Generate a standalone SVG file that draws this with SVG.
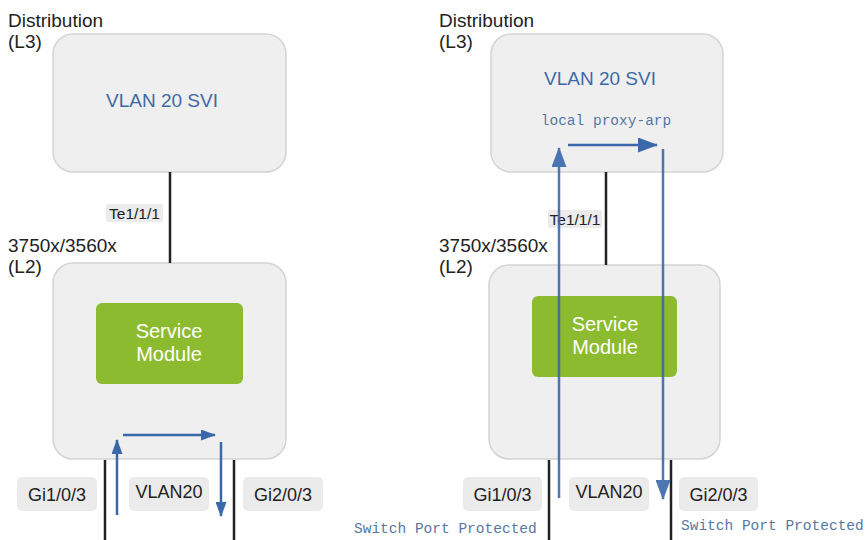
<svg xmlns="http://www.w3.org/2000/svg" width="867" height="540" viewBox="0 0 867 540">
<defs>
<style>
.t{font-family:"Liberation Sans",Arial,sans-serif;font-size:19px;fill:#222}
.box{fill:#efefef;stroke:#d4d4d4;stroke-width:1.5}
.svi{font-family:"Liberation Sans",Arial,sans-serif;font-size:19px;fill:#3d6aa6;text-anchor:middle}
.sm{fill:#8dbb30}
.smt{font-family:"Liberation Sans",Arial,sans-serif;font-size:20px;fill:#fff;text-anchor:middle}
.lbg{fill:#ebebeb}
.lbl{font-family:"Liberation Sans",Arial,sans-serif;font-size:18px;fill:#222;text-anchor:middle}
.mono{font-family:"Liberation Mono","Courier New",monospace;font-size:14.5px;fill:#5877a3}
.wire{stroke:#222;stroke-width:2.5;fill:none}
.flow{stroke:#3a68ab;stroke-width:2.5;fill:none}
</style>
<marker id="ah" viewBox="0 0 15 11" refX="14" refY="5.5" markerWidth="15" markerHeight="11" markerUnits="userSpaceOnUse" orient="auto">
<path d="M0,0 L15,5.5 L0,11 Z" fill="#3a68ab"/>
</marker>
<marker id="ah2" viewBox="0 0 20 15" refX="19" refY="7.5" markerWidth="20" markerHeight="15" markerUnits="userSpaceOnUse" orient="auto">
<path d="M0,0 L20,7.5 L0,15 Z" fill="#3a68ab"/>
</marker>
</defs>

<!-- Left panel -->
<g id="left-dist">
<text class="t" x="8" y="27">Distribution</text>
<text class="t" x="8" y="48">(L3)</text>
<rect class="box" x="53" y="34" width="233" height="138" rx="20"/>
<text class="svi" x="162" y="107">VLAN 20 SVI</text>
</g>
<g id="left-access">
<text class="t" x="8" y="252">3750x/3560x</text>
<text class="t" x="8" y="273">(L2)</text>
<rect class="box" x="53" y="263" width="233" height="196" rx="20"/>
</g>
<g id="left-sm">
<rect class="sm" x="96" y="303" width="147" height="81" rx="6"/>
<text class="smt" x="169" y="338">Service</text>
<text class="smt" x="169" y="361">Module</text>
</g>
<g id="left-labels">
<rect class="lbg" x="106" y="204" width="57" height="18" rx="2"/>
<text class="lbl" x="134.5" y="219" style="font-size:15.5px">Te1/1/1</text>
<rect class="lbg" x="17" y="477" width="80" height="34" rx="5"/>
<text class="lbl" x="57" y="501">Gi1/0/3</text>
<rect class="lbg" x="129" y="477" width="80" height="34" rx="5"/>
<text class="lbl" x="169" y="498">VLAN20</text>
<rect class="lbg" x="243" y="477" width="80" height="34" rx="5"/>
<text class="lbl" x="283" y="501">Gi2/0/3</text>
</g>

<!-- Right panel -->
<g id="right-dist">
<text class="t" x="439" y="27">Distribution</text>
<text class="t" x="439" y="48">(L3)</text>
<rect class="box" x="491" y="34" width="232" height="138" rx="20"/>
<text class="svi" x="600" y="85">VLAN 20 SVI</text>
<text class="mono" x="606" y="125" text-anchor="middle">local proxy-arp</text>
</g>
<g id="right-access">
<text class="t" x="439" y="252">3750x/3560x</text>
<text class="t" x="439" y="273">(L2)</text>
<rect class="box" x="489" y="265" width="231" height="194" rx="20"/>
</g>
<g id="right-sm">
<rect class="sm" x="532" y="296" width="145" height="81" rx="6"/>
<text class="smt" x="605" y="331">Service</text>
<text class="smt" x="605" y="354">Module</text>
</g>
<g id="right-labels">
<rect class="lbg" x="548" y="210" width="54" height="18" rx="2"/>
<text class="lbl" x="575" y="225" style="font-size:15.5px">Te1/1/1</text>
<rect class="lbg" x="463" y="477" width="79" height="34" rx="5"/>
<text class="lbl" x="502.5" y="501">Gi1/0/3</text>
<rect class="lbg" x="569" y="477" width="80" height="34" rx="5"/>
<text class="lbl" x="609" y="498">VLAN20</text>
<rect class="lbg" x="679" y="477" width="79" height="34" rx="5"/>
<text class="lbl" x="718.5" y="501">Gi2/0/3</text>
<text class="mono" x="354" y="533">Switch Port Protected</text>
<text class="mono" x="681" y="530">Switch Port Protected</text>
</g>

<g id="connectors">
<line class="wire" x1="170" y1="172" x2="170" y2="263"/>
<line class="wire" x1="105" y1="460" x2="105" y2="540"/>
<line class="wire" x1="234" y1="460" x2="234" y2="540"/>
<line class="wire" x1="606" y1="172" x2="606" y2="265"/>
<line class="wire" x1="549" y1="460" x2="549" y2="540"/>
<line class="wire" x1="671" y1="460" x2="671" y2="540"/>
<line class="flow" x1="117" y1="515" x2="117" y2="440" marker-end="url(#ah)"/>
<line class="flow" x1="123" y1="435" x2="215" y2="435" marker-end="url(#ah)"/>
<line class="flow" x1="221" y1="442" x2="221" y2="516" marker-end="url(#ah)"/>
<line class="flow" x1="559" y1="498" x2="559" y2="148" marker-end="url(#ah2)" opacity="0.9"/>
<line class="flow" x1="568" y1="145" x2="657" y2="145" marker-end="url(#ah2)"/>
<line class="flow" x1="663" y1="149" x2="663" y2="499" marker-end="url(#ah2)" opacity="0.9"/>
</g>
</svg>
